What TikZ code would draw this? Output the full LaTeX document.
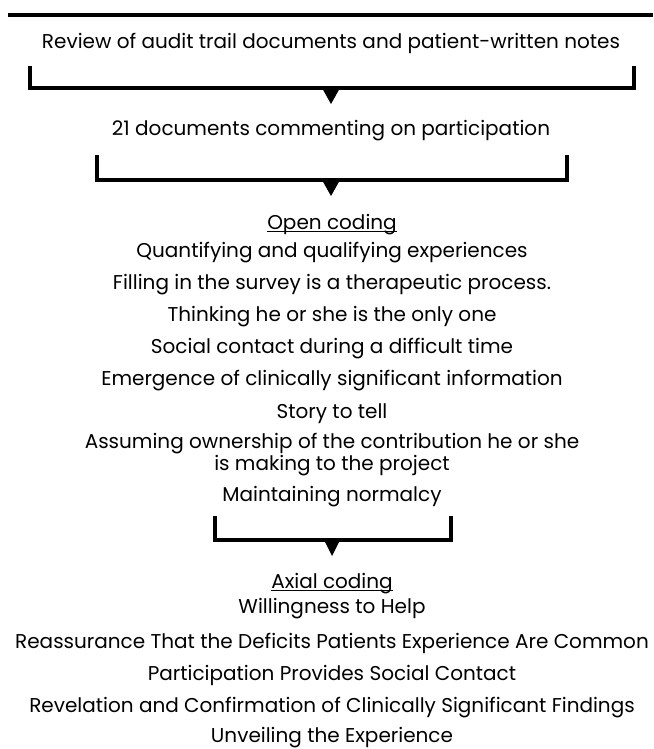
\documentclass[tikz,border=0pt]{standalone}
\usepackage{fontspec}
\setmainfont{Poppins}
\usetikzlibrary{positioning}

\begin{document}
\begin{tikzpicture}[
        x=0.75pt, y=-0.75pt,
        item/.style={inner sep=0pt, align=center, font=\fontsize{15}{16.5}\selectfont},
        brace/.style={line width=3.3pt},
        topline/.style={line width=2.3pt}
    ]
    \useasboundingbox (0,0) rectangle (653,749);

    \coordinate (rl) at (8,15);
    \coordinate (rr) at (653,15);
    \draw[topline] (rl) -- (rr);

    \node (review) [item] at (331,43) {Review of audit trail documents and patient-written notes};

    % first bracket
    \coordinate (b1l) at (30,66);
    \coordinate (b1r) at (634,66);
    \coordinate (t1) at (331,88);
    \draw[brace] (b1l) |- (t1) -| (b1r);
    \fill (t1) ++(-9,0) -- ++(18,0) -- ++(-9,16) -- cycle;

    \node (docs) [item] at (331,131) {21 documents commenting on participation};

    % second bracket
    \coordinate (b2l) at (97,155);
    \coordinate (b2r) at (567,155);
    \coordinate (t2) at (331,180);
    \draw[brace] (b2l) |- (t2) -| (b2r);
    \fill (t2) ++(-9,0) -- ++(18,0) -- ++(-9,16) -- cycle;

    \node (open) [item] at (332,231) {\underline{\smash{Open coding}}};
    \node (quant) [item] at (332,253) {Quantifying and qualifying experiences};
    \node (fill) [item] at (332,285) {Filling in the survey is a therapeutic process.};
    \node (only) [item] at (332,317) {Thinking he or she is the only one};
    \node (social) [item] at (332,349) {Social contact during a difficult time};
    \node (emerg) [item] at (332,381) {Emergence of clinically significant information};
    \node (story) [item] at (332,414) {Story to tell};
    \node (own) [item] at (332,455) {Assuming ownership of the contribution he or she\\is making to the project};
    \node (normal) [item] at (332,497) {Maintaining normalcy};

    % third bracket
    \coordinate (b3l) at (215,516);
    \coordinate (b3r) at (451,516);
    \coordinate (t3) at (332,540);
    \draw[brace] (b3l) |- (t3) -| (b3r);
    \fill (t3) ++(-8,0) -- ++(16,0) -- ++(-8,16) -- cycle;

    \node (axial) [item] at (332,590) {\underline{\smash{Axial coding}}};
    \node (help) [item] at (332,609) {Willingness to Help};
    \node (common) [item] at (332,643) {Reassurance That the Deficits Patients Experience Are Common};
    \node (contact) [item] at (332,675) {Participation Provides Social Contact};
    \node (reveal) [item] at (332,708) {Revelation and Confirmation of Clinically Significant Findings};
    \node (unveil) [item] at (332,738) {Unveiling the Experience};
\end{tikzpicture}
\end{document}
